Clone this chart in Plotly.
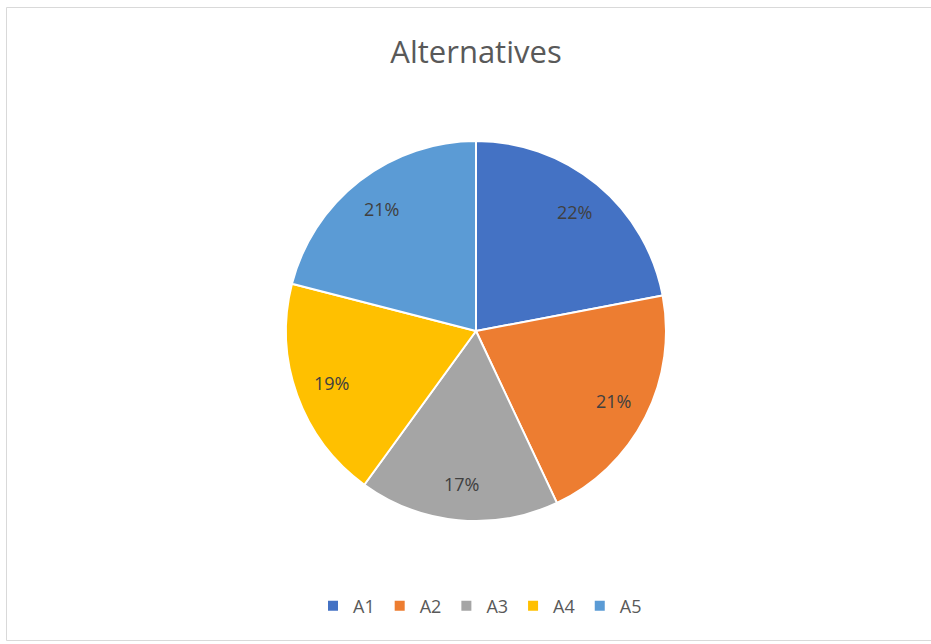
import math
import plotly.graph_objects as go

categories = ["A1", "A2", "A3", "A4", "A5"]
values = [22, 21, 17, 19, 21]
colors = ["#4472C4", "#ED7D31", "#A5A5A5", "#FFC000", "#5B9BD5"]

W, H = 931, 644
cx, cy, r = 476, 331, 190
label_frac = 0.81

fig = go.Figure(go.Pie(
    labels=categories,
    values=values,
    sort=False,
    direction="clockwise",
    rotation=0,
    marker=dict(colors=colors, line=dict(color="white", width=2)),
    textinfo="none",
    domain=dict(x=[(cx - r) / W, (cx + r) / W], y=[1 - (cy + r) / H, 1 - (cy - r) / H]),
    hoverinfo="label+percent",
))

# percentage labels placed along each slice's mid-angle
total = sum(values)
annotations = []
cum = 0
for v in values:
    mid = (cum + v / 2) / total * 2 * math.pi
    cum += v
    px = cx + label_frac * r * math.sin(mid)
    py = cy - label_frac * r * math.cos(mid)
    annotations.append(dict(
        x=px / W, y=1 - py / H, xref="paper", yref="paper",
        text=f"{round(v / total * 100)}%", showarrow=False,
        font=dict(size=18, color="#404040", family="Open Sans"),
        xanchor="center", yanchor="middle",
    ))

fig.update_layout(
    width=W, height=H,
    margin=dict(l=0, r=0, t=0, b=0),
    paper_bgcolor="white",
    title=dict(text="Alternatives", x=476 / W, xanchor="center", y=1 - 52 / H, yanchor="middle",
               font=dict(size=31, color="#595959", family="Open Sans")),
    legend=dict(orientation="h", x=480 / W, xanchor="center", y=1 - 606 / H, yanchor="middle",
                font=dict(size=18, color="#595959", family="Open Sans"), itemwidth=30),
    annotations=annotations,
    shapes=[dict(type="rect", xref="paper", yref="paper",
                 x0=6.5 / W, x1=1.02, y0=1 - 640.5 / H, y1=1 - 7.5 / H,
                 line=dict(color="#D9D9D9", width=1), fillcolor="rgba(0,0,0,0)")],
)

fig.write_html("out.html")
